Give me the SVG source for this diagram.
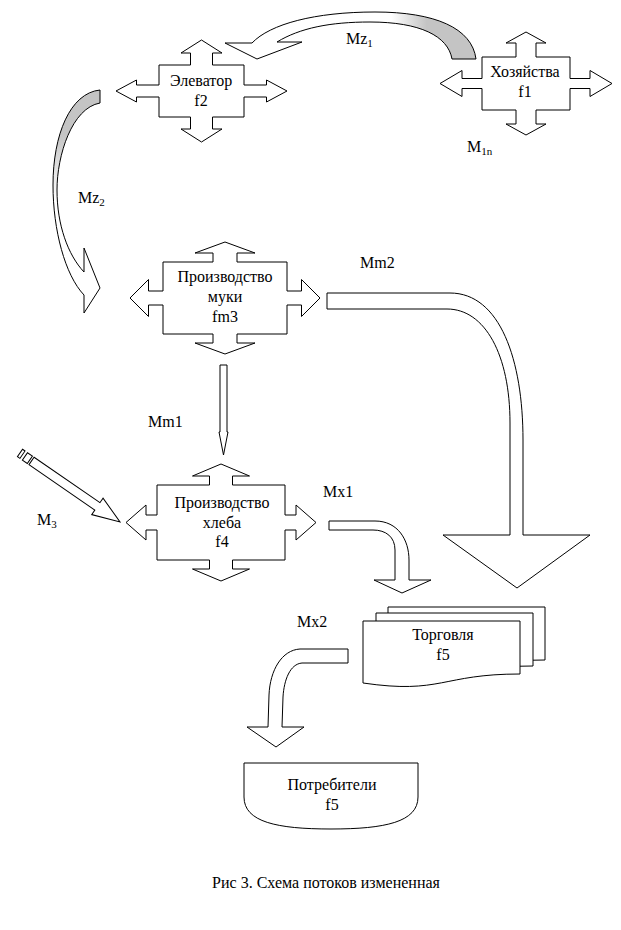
<svg xmlns="http://www.w3.org/2000/svg" width="621" height="930" viewBox="0 0 621 930">
<style>
.s{fill:#fff;stroke:#000;stroke-width:1}
text{font-family:"Liberation Serif","Times New Roman",serif;font-size:16px;fill:#000}
.c{text-anchor:middle}
.sub{font-size:11px}
</style>
<defs>
<linearGradient id="g1" gradientUnits="userSpaceOnUse" x1="225" y1="0" x2="477" y2="0"><stop offset="0.66" stop-color="#fff"/><stop offset="0.8" stop-color="#c4c4c4"/></linearGradient>
<linearGradient id="g2" gradientUnits="userSpaceOnUse" x1="0" y1="90" x2="0" y2="313"><stop offset="0" stop-color="#c4c4c4"/><stop offset="0.2" stop-color="#c4c4c4"/><stop offset="0.5" stop-color="#fff"/></linearGradient>
<path id="doc" d="M363,621 H520 V674 C441.5,674 441.5,694.5 363,683 Z"/>
</defs>
<rect width="621" height="930" fill="#fff"/>

<g id="connectors">
<path class="s" style="fill:url(#g1)" d="M252,43 C270,24 315,12 375,12 C435,12 472,28 476,59 L452,59 C448,36 420,22 370,22 C330,22 300,28 277,42 L302,42 L257,59 L225,43 Z"/>
<text x="346" y="44">Mz<tspan class="sub" dy="3">1</tspan></text>
<path class="s" style="fill:url(#g2)" d="M100,90 C70,93 53,135 53,185 C53,230 65,275 84,295 L84,313 L100,288 L84,248 L84,272 C68,255 57,225 57,190 C57,155 72,108 100,103 Z"/>
<text x="78" y="203">Mz<tspan class="sub" dy="3">2</tspan></text>
<text x="467" y="152">M<tspan class="sub" dy="3">1n</tspan></text>
<path class="s" d="M327,293 H450 C500,293 523,360 523,440 V535 H590 L517,588 L443,535 H510 V423 C510,355 485,309 447,309 H327 Z"/>
<text x="360" y="268">Mm2</text>
<path class="s" d="M220,365 H227 V432 H228 L223.5,455 L219,432 H220 Z"/>
<text x="148" y="427">Mm1</text>
<path class="s" d="M329,521 H375 C398,521 409,540 409,560 V580 H431 L402,593 L374,580 H395 V550 C395,537 386,530 373,530 H329 Z"/>
<text x="323" y="497">Mx1</text>
<path class="s" d="M348,649 H300 C282,650 270,670 269,695 L268,727 H247 L276,747 L304,727 H282 L283,697 C284,680 290,664 302,663 H348 Z"/>
<text x="297" y="627">Mx2</text>
<g transform="translate(20,453) rotate(34.6)">
<rect class="s" x="0" y="-4.5" width="3" height="9"/>
<rect class="s" x="6" y="-4.5" width="6" height="9"/>
<path class="s" d="M14,-4.5 L94,-4.5 L94,-10 L121.5,0 L94,10 L94,4.5 L14,4.5 Z"/>
</g>
<text x="37" y="525">M<tspan class="sub" dy="3">3</tspan></text>
</g>

<g id="elevator">
<path class="s" transform="translate(201.5,91)" d="M0,-51 L20.5,-38 L11,-38 L11,-26 L42.5,-26 L42.5,-6 L65,-6 L65,-11 L85.5,0 L65,11 L65,6 L42.5,6 L42.5,26 L11,26 L11,38 L20.5,38 L0,51 L-20.5,38 L-11,38 L-11,26 L-42.5,26 L-42.5,6 L-65,6 L-65,11 L-85.5,0 L-65,-11 L-65,-6 L-42.5,-6 L-42.5,-26 L-11,-26 L-11,-38 L-20.5,-38 Z"/>
<text class="c" x="201" y="86">Элеватор</text>
<text class="c" x="201" y="106">f2</text>
</g>

<g id="farms">
<path class="s" transform="translate(526,83.5)" d="M0,-51.5 L20,-40.5 L10,-40.5 L10,-26.5 L44,-26.5 L44,-5 L64,-5 L64,-13 L86,0 L64,13 L64,5 L44,5 L44,26.5 L10,26.5 L10,40.5 L20,40.5 L0,51.5 L-20,40.5 L-10,40.5 L-10,26.5 L-44,26.5 L-44,5 L-64,5 L-64,13 L-86,0 L-64,-13 L-64,-5 L-44,-5 L-44,-26.5 L-10,-26.5 L-10,-40.5 L-20,-40.5 Z"/>
<text class="c" x="525" y="77">Хозяйства</text>
<text class="c" x="525" y="97">f1</text>
</g>

<g id="flour">
<path class="s" transform="translate(225,298)" d="M0,-56 L30,-45 L12,-45 L12,-36 L62,-36 L62,-7 L76.5,-7 L76.5,-18.5 L95,0 L76.5,18.5 L76.5,7 L62,7 L62,36 L12,36 L12,45 L30,45 L0,56 L-30,45 L-12,45 L-12,36 L-62,36 L-62,7 L-76.5,7 L-76.5,18.5 L-95,0 L-76.5,-18.5 L-76.5,-7 L-62,-7 L-62,-36 L-12,-36 L-12,-45 L-30,-45 Z"/>
<text class="c" x="225" y="282">Производство</text>
<text class="c" x="225" y="302">муки</text>
<text class="c" x="225" y="322">fm3</text>
</g>

<g id="bread">
<path class="s" transform="translate(221,522.5)" d="M0,-58.5 L28.5,-46.5 L11.5,-46.5 L11.5,-37.5 L64,-37.5 L64,-7.5 L75,-7.5 L75,-17.5 L95,0 L75,17.5 L75,7.5 L64,7.5 L64,37.5 L11.5,37.5 L11.5,46.5 L28.5,46.5 L0,58.5 L-28.5,46.5 L-11.5,46.5 L-11.5,37.5 L-64,37.5 L-64,7.5 L-75,7.5 L-75,17.5 L-95,0 L-75,-17.5 L-75,-7.5 L-64,-7.5 L-64,-37.5 L-11.5,-37.5 L-11.5,-46.5 L-28.5,-46.5 Z"/>
<text class="c" x="222" y="508">Производство</text>
<text class="c" x="222" y="528">хлеба</text>
<text class="c" x="222" y="547">f4</text>
</g>

<g id="trade">
<use href="#doc" class="s" transform="translate(25,-14)"/>
<use href="#doc" class="s" transform="translate(13,-8)"/>
<use href="#doc" class="s"/>
<text class="c" x="443" y="640">Торговля</text>
<text class="c" x="443" y="660">f5</text>
</g>

<g id="consumers">
<path class="s" d="M244,763 H418 V797 C418,822 385,829 331,829 C277,829 244,822 244,797 Z"/>
<text class="c" x="332" y="790">Потребители</text>
<text class="c" x="332" y="810">f5</text>
</g>

<text class="c" x="326" y="888">Рис 3. Схема потоков измененная</text>
</svg>
